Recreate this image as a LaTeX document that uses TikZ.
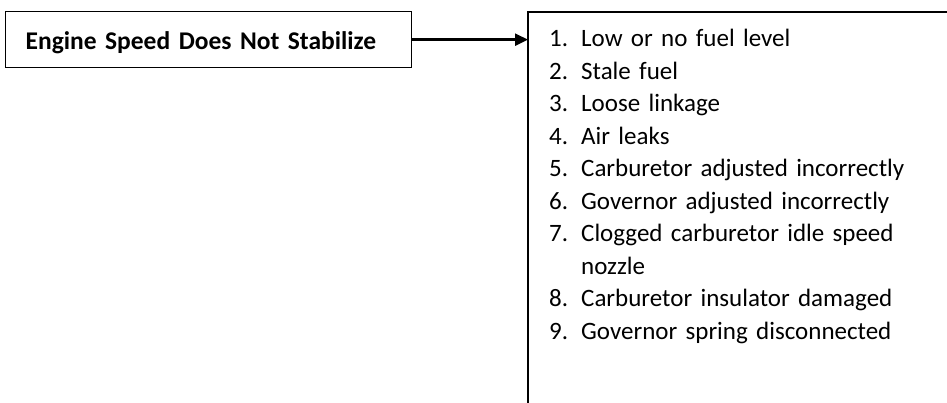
\documentclass[tikz,border=0pt]{standalone}
\usepackage{fontspec}
\setmainfont{Carlito}
\usetikzlibrary{arrows.meta, positioning}

\begin{document}
\begin{tikzpicture}[
      x=1pt, y=-1pt,
      >={Triangle[length=13pt, width=12pt]},
      problem/.style={draw, line width=1.3pt, anchor=north west, minimum width=406pt,
        inner xsep=20pt, inner ysep=0pt, text height=38pt, text depth=18pt,
        text width=366pt, align=left, font=\fontsize{25.5}{32.5}\selectfont\bfseries},
      causebox/.style={anchor=north west, inner sep=0pt, minimum width=430pt, minimum height=400pt},
      causelist/.style={anchor=base west, inner sep=0pt, text width=380pt, align=left,
        font=\fontsize{25}{32.5}\selectfont},
      trans/.style={->, line width=2.4pt}
    ]

    \useasboundingbox (0,0) rectangle (947,403);

    \node[problem] (speed) at (5,11) {Engine Speed Does Not Stabilize};
    \node[causebox] (causes) at (528,12) {};
    \node[causelist] (items) at ([xshift=21pt, yshift=-35pt]causes.north west)
      {\makebox[32pt][l]{1.}Low or no fuel level\\
       \makebox[32pt][l]{2.}Stale fuel\\
       \makebox[32pt][l]{3.}Loose linkage\\
       \makebox[32pt][l]{4.}Air leaks\\
       \makebox[32pt][l]{5.}Carburetor adjusted incorrectly\\
       \makebox[32pt][l]{6.}Governor adjusted incorrectly\\
       \makebox[32pt][l]{7.}Clogged carburetor idle speed\\
       \hspace*{32pt}nozzle\\
       \makebox[32pt][l]{8.}Carburetor insulator damaged\\
       \makebox[32pt][l]{9.}Governor spring disconnected};

    % box is cut off at the page edge, only top and left side show
    \draw[line width=1.3pt] (causes.south west) |- (causes.north east);

    \draw[trans] (speed.east) -- (speed.east -| causes.west);

  \end{tikzpicture}
\end{document}
